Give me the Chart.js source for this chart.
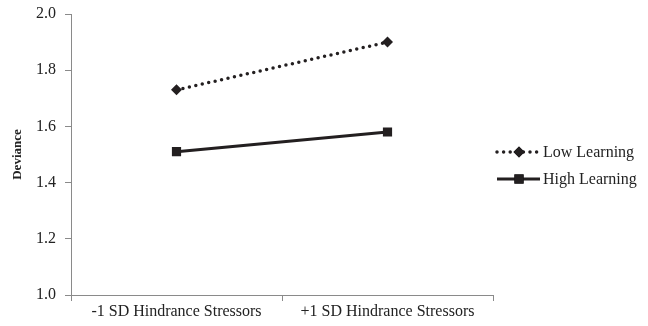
<!DOCTYPE html>
<html><head><meta charset="utf-8">
<script src="https://cdn.jsdelivr.net/npm/chart.js@4/dist/chart.umd.min.js"></script>
<style>html,body{margin:0;padding:0;background:#fff}#wrap{width:648px;height:326px}</style>
</head><body><div id="wrap"><canvas id="c" width="648" height="326"></canvas></div>
<script>
const categories = ['-1 SD Hindrance Stressors', '+1 SD Hindrance Stressors'];
const lowLearning = [1.73, 1.90];
const highLearning = [1.51, 1.58];
const yTicks = [1.0, 1.2, 1.4, 1.6, 1.8, 2.0];
const seriesNames = ['Low Learning', 'High Learning'];

const ink = '#231f20';
const axisCol = '#8a8a8a';
const serif = "'Liberation Serif', 'Times New Roman', serif";

const legendPlugin = {
  id: 'sideLegend',
  afterDraw(chart) {
    const ctx = chart.ctx;
    const rows = [152, 179];
    chart.data.datasets.forEach((ds, i) => {
      const y = rows[i];
      const x0 = 497, x1 = 540, xm = 519;
      ctx.save();
      ctx.strokeStyle = ds.borderColor;
      ctx.lineWidth = ds.borderWidth;
      ctx.lineCap = ds.borderCapStyle || 'butt';
      ctx.setLineDash(ds.borderDash || []);
      ctx.beginPath(); ctx.moveTo(x0, y); ctx.lineTo(x1, y); ctx.stroke();
      ctx.setLineDash([]);
      Chart.helpers.drawPoint(ctx, {pointStyle: ds.pointStyle, radius: ds.pointRadius, borderWidth: 0}, xm, y);
      ctx.fillStyle = ds.pointBackgroundColor;
      ctx.fill();
      ctx.fillStyle = '#222';
      ctx.font = "16px " + serif;
      ctx.textBaseline = 'middle';
      ctx.textAlign = 'left';
      ctx.fillText(ds.label, 543, y + 1);
      ctx.restore();
    });
  }
};

new Chart(document.getElementById('c'), {
  type: 'line',
  data: {
    labels: categories,
    datasets: [
      {label: seriesNames[0], data: lowLearning, borderColor: ink, borderWidth: 3.5,
       borderDash: [0, 6.6], borderCapStyle: 'round', pointStyle: 'rectRot', pointRadius: 5.5,
       pointBackgroundColor: ink, pointBorderColor: ink, pointBorderWidth: 0, tension: 0},
      {label: seriesNames[1], data: highLearning, borderColor: ink, borderWidth: 3,
       pointStyle: 'rect', pointRadius: 6.5,
       pointBackgroundColor: ink, pointBorderColor: ink, pointBorderWidth: 0, tension: 0}
    ]
  },
  options: {
    responsive: false, animation: false, devicePixelRatio: 1,
    layout: {padding: {left: 0, top: 14, right: 155, bottom: 0}},
    plugins: {legend: {display: false}, tooltip: {enabled: false}},
    scales: {
      x: {
        offset: true,
        grid: {display: true, drawOnChartArea: false, drawTicks: true, tickLength: 6, color: axisCol, offset: true},
        border: {display: true, color: axisCol, width: 1},
        ticks: {color: '#222', font: {family: serif, size: 16}, padding: 1, maxRotation: 0},
        afterFit(s) { s.height = 31; s.paddingLeft = 0; s.paddingRight = 0; }
      },
      y: {
        min: 1.0, max: 2.0,
        afterBuildTicks(s) { s.ticks = yTicks.map(v => ({value: v})); },
        grid: {display: true, drawOnChartArea: false, drawTicks: true, tickLength: 6, color: axisCol},
        border: {display: true, color: axisCol, width: 1},
        ticks: {color: '#222', font: {family: serif, size: 16}, padding: 9, callback: v => Number(v).toFixed(1)},
        title: {display: true, text: 'Deviance', color: '#222', font: {family: serif, size: 13, weight: 'bold'}, padding: {top: 10, bottom: 2}},
        afterFit(s) { s.width = 71; s.paddingTop = 0; s.paddingBottom = 0; }
      }
    }
  },
  plugins: [legendPlugin]
});
</script></body></html>
